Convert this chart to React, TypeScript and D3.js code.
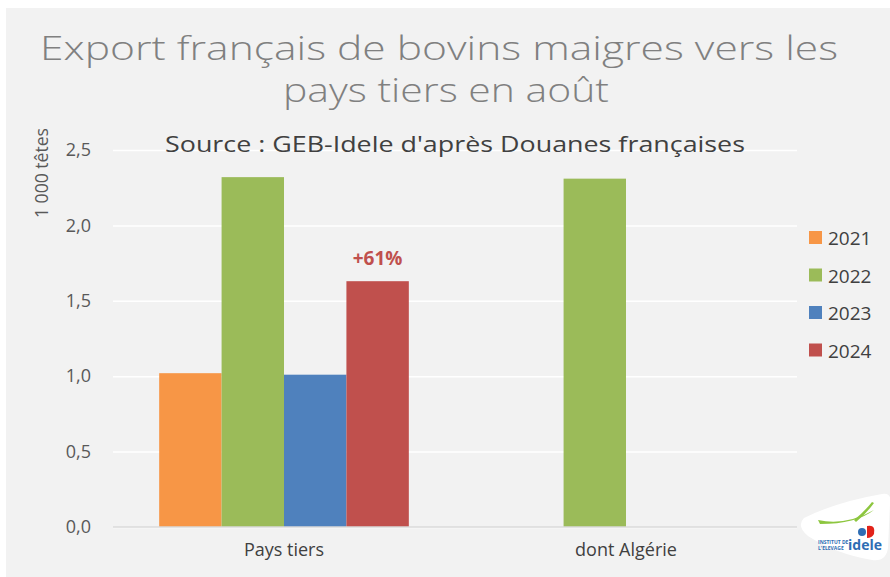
import * as d3 from 'd3';
import { useEffect, useRef } from 'react';

// Chart data
const categories = ['Pays tiers', 'dont Algérie'];
const years = ['2021', '2022', '2023', '2024'];
const values2021 = [1.02, 0];
const values2022 = [2.32, 2.31];
const values2023 = [1.01, 0];
const values2024 = [1.63, 0];
const yTicks = [0, 0.5, 1, 1.5, 2, 2.5];
const colors = ['#f79646', '#9bbb59', '#4f81bd', '#c0504d'];
const seriesValues = [values2021, values2022, values2023, values2024];

export default function App() {
  const svgCur = useRef<SVGSVGElement | null>(null);

  useEffect(() => {
    if (!svgCur.current) return;
    const width = 890;
    const height = 577;
    const margin = { top: 150, right: 93, bottom: 50, left: 113 };
    const font = "'Open Sans', 'DejaVu Sans', sans-serif";

    const svg = d3.select(svgCur.current);
    svg.selectAll('*').remove();

    svg.append('rect').attr('width', width).attr('height', height).attr('fill', '#ffffff');
    svg.append('rect').attr('x', 6).attr('y', 8).attr('width', width - 6).attr('height', height - 8).attr('fill', '#f2f2f2');

    const x0 = d3.scaleBand()
      .domain(categories)
      .range([margin.left, width - margin.right])
      .paddingInner(0.27)
      .paddingOuter(0.135);
    const x1 = d3.scaleBand().domain(years).range([0, x0.bandwidth()]);
    const y = d3.scaleLinear().domain([0, 2.5]).range([height - margin.bottom, margin.top]);

    // gridlines + tick labels
    const yAxis = d3.axisLeft(y).tickValues(yTicks)
      .tickSize(-(width - margin.left - margin.right))
      .tickFormat(d => d3.format('.1f')(d as number).replace('.', ','))
      .tickPadding(22);
    svg.append('g')
      .attr('transform', `translate(${margin.left},0)`)
      .call(yAxis)
      .call(g => g.select('.domain').remove())
      .call(g => g.selectAll('line').attr('stroke', '#ffffff').attr('stroke-width', 1.5))
      .call(g => g.selectAll('text').attr('fill', '#595959').attr('font-size', 18).attr('font-family', font));

    // bars
    categories.forEach((c, ci) => {
      years.forEach((yr, si) => {
        const v = seriesValues[si][ci];
        if (!v) return;
        svg.append('rect')
          .attr('x', (x0(c) ?? 0) + (x1(yr) ?? 0))
          .attr('y', y(v))
          .attr('width', x1.bandwidth())
          .attr('height', y(0) - y(v))
          .attr('fill', colors[si]);
      });
    });

    // baseline
    svg.append('line')
      .attr('x1', margin.left).attr('x2', width - margin.right)
      .attr('y1', y(0)).attr('y2', y(0))
      .attr('stroke', '#d9d9d9').attr('stroke-width', 1.5);

    // x axis labels
    const xAxis = d3.axisBottom(x0).tickSize(0).tickPadding(16);
    svg.append('g')
      .attr('transform', `translate(0,${y(0)})`)
      .call(xAxis)
      .call(g => g.select('.domain').remove())
      .call(g => g.selectAll('text').attr('fill', '#404040').attr('font-size', 18).attr('font-family', font));

    // annotation
    const redX = (x0(categories[0]) ?? 0) + (x1(years[3]) ?? 0) + x1.bandwidth() / 2;
    svg.append('text')
      .attr('x', redX).attr('y', y(values2024[0]) - 16)
      .attr('text-anchor', 'middle')
      .attr('fill', '#c0504d').attr('font-weight', 'bold')
      .attr('font-size', 19).attr('font-family', font)
      .text('+61%');

    // titles
    svg.append('text').attr('x', 439).attr('y', 60).attr('text-anchor', 'middle')
      .attr('fill', '#808080').attr('font-size', 33).attr('font-weight', 300).attr('font-family', font)
      .attr('textLength', 798).attr('lengthAdjust', 'spacingAndGlyphs')
      .text('Export français de bovins maigres vers les');
    svg.append('text').attr('x', 446).attr('y', 102).attr('text-anchor', 'middle')
      .attr('fill', '#808080').attr('font-size', 33).attr('font-weight', 300).attr('font-family', font)
      .attr('textLength', 326).attr('lengthAdjust', 'spacingAndGlyphs')
      .text('pays tiers en août');
    svg.append('text').attr('x', 455).attr('y', 152).attr('text-anchor', 'middle')
      .attr('fill', '#404040').attr('font-size', 21).attr('font-family', font)
      .attr('textLength', 580).attr('lengthAdjust', 'spacingAndGlyphs')
      .text("Source : GEB-Idele d'après Douanes françaises");

    // y axis title
    svg.append('text')
      .attr('transform', 'translate(48,173) rotate(-90)')
      .attr('text-anchor', 'middle')
      .attr('fill', '#595959').attr('font-size', 18).attr('font-family', font)
      .attr('textLength', 90).attr('lengthAdjust', 'spacingAndGlyphs')
      .text('1 000 têtes');

    // legend
    const legend = svg.append('g').attr('transform', 'translate(809,238)');
    years.forEach((yr, i) => {
      const row = legend.append('g').attr('transform', `translate(0,${i * 37.5})`);
      row.append('rect').attr('x', 0).attr('y', -7).attr('width', 13).attr('height', 13).attr('fill', colors[i]);
      row.append('text').attr('x', 19).attr('y', 7)
        .attr('fill', '#404040').attr('font-size', 19).attr('font-family', font)
        .text(yr);
    });

    // logo
    const logo = svg.append('g').attr('transform', 'translate(796,492)');
    logo.append('path')
      .attr('d', 'M 8 26 Q 40 10 86 2 Q 96 0 94 12 L 92 56 Q 90 70 76 68 Q 40 62 12 44 Q 0 34 8 26 Z')
      .attr('fill', '#ffffff');
    logo.append('path')
      .attr('d', 'M 22 28 Q 50 34 78 18 Q 60 32 24 32 Z')
      .attr('fill', '#8dc63f');
    logo.append('path')
      .attr('d', 'M 58 28 Q 68 20 76 10 L 78 11 Q 70 22 60 30 Z')
      .attr('fill', '#8dc63f');
    logo.append('circle').attr('cx', 66).attr('cy', 40).attr('r', 4).attr('fill', '#2e6db4');
    logo.append('path').attr('d', 'M 71 34 Q 80 32 78 42 Q 76 46 71 46 Z').attr('fill', '#e2231a');
    logo.append('text').attr('x', 52).attr('y', 58).attr('fill', '#2e6db4')
      .attr('font-size', 14).attr('font-weight', 'bold').attr('font-family', font).text('idele');
    logo.append('text').attr('x', 22).attr('y', 52).attr('fill', '#2e6db4')
      .attr('font-size', 5).attr('font-weight', 'bold').attr('font-family', font).text('INSTITUT DE');
    logo.append('text').attr('x', 22).attr('y', 58).attr('fill', '#2e6db4')
      .attr('font-size', 5).attr('font-weight', 'bold').attr('font-family', font).text("L'ELEVAGE");
  }, []);

  return (
    <div style={{ position: 'absolute', left: 0, top: 0 }}>
      <svg ref={svgCur} width={890} height={577} style={{ display: 'block' }}></svg>
    </div>
  );
}
